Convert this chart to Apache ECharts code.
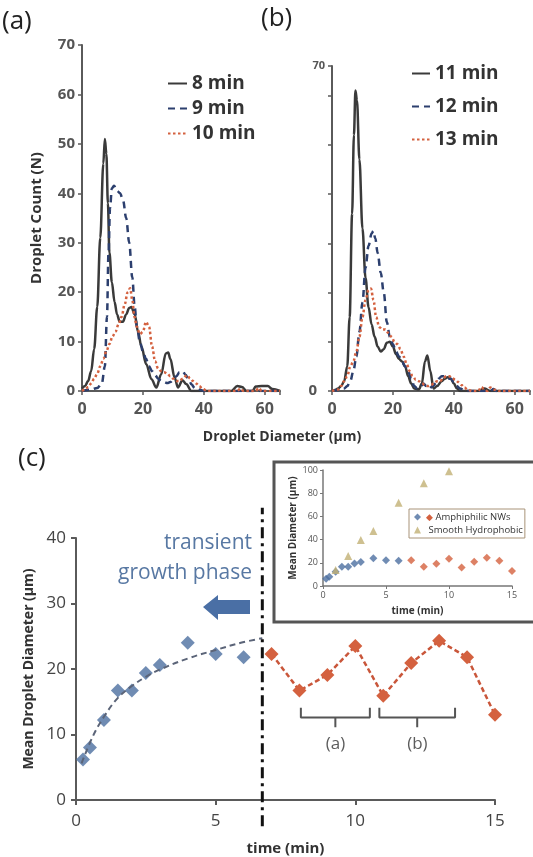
<!DOCTYPE html>
<html>
<head>
<meta charset="utf-8">
<script src="https://cdn.jsdelivr.net/npm/echarts@6/dist/echarts.min.js"></script>
<style>
html, body { margin: 0; padding: 0; background: #fff; }
#chart { width: 533px; height: 857px; }
</style>
</head>
<body>
<div id="chart"></div>
<script>
// (a) droplet count vs diameter, [diameter um, count]
var count8 = [[0,0.5],[1,1],[2,2],[3,4],[4,8.5],[5,17],[6,31],[7,46],[7.5,51],[8,48],[8.5,38],[9,28],[9.8,22],[10.7,18],[11.5,15.5],[12.4,14],[13.4,14],[14.5,15.5],[15.5,16.8],[16.2,17],[17.3,15.5],[18.4,12],[19.5,9],[21.1,5.4],[22.8,2.4],[24.4,0.7],[26,3.4],[27.5,7.6],[28.3,7.8],[29,6.5],[30.4,2.7],[31.5,0.7],[33,2.2],[34.2,1.4],[35.9,0],[40,0],[49,0],[51,1],[52.5,0.8],[54,0],[56,0],[57,0.9],[59,1],[61,1],[62.5,0.4],[65,0]];
var count9 = [[0,0],[3,0.3],[5,0.6],[6.5,1.5],[7.5,5],[8.2,15],[8.7,28],[9.2,37],[9.8,41],[10.5,41.5],[11.5,40.5],[12.5,40],[13.5,38.5],[14.5,35],[15.5,30],[16.5,23],[17.3,17],[18,13],[19,10],[20,8],[21,6.5],[22,5],[23,4],[24,3.2],[25,2.5],[26,2],[27,1.8],[28,1.6],[29,1.8],[30,2.3],[31,3],[32,3.8],[33,4],[34,3.3],[35,2.3],[36,1.3],[37,0.6],[38,0.5],[39,0.2],[40,0],[65,0]];
var count10 = [[0,0],[1,0.3],[2,0.8],[3,1.5],[4,2.5],[5,3.5],[6,5],[7,6.5],[8,8],[9,9.5],[10,11],[11,12],[12,13.5],[13,15],[14,17.5],[15,20],[15.8,20.8],[16.5,18.5],[17.2,15],[18,13],[19,11.5],[20,12],[21,14],[22,13],[23,9],[24,6],[25,4.5],[26,4],[27,3.8],[28,3.5],[29,3],[30,2.5],[31,2],[32,2],[33,2.5],[34.5,3.2],[35.5,2.5],[36.5,2],[37.5,1.5],[38.5,1],[39.5,0.5],[41,0],[51,0],[52,0.5],[53,0],[57,0],[58,0.6],[59,0],[65,0]];

// (b)
var count11 = [[0,0],[1,0.2],[2,0.5],[3,1],[4,2],[5,5],[5.8,15],[6.6,36],[7.2,52],[7.7,61],[8.2,59],[9,47],[10,33],[11,23],[12,17],[13,13.5],[14,11],[15,9],[16,8],[17,8.5],[18,9.8],[19,10],[20,9],[21,7.5],[22,6.5],[23,6],[24,5],[25,3],[26,1.5],[27,0.5],[28.5,0.3],[29.5,1.5],[30.5,6],[31.3,7.2],[32.3,4],[33.3,0.5],[34.5,1],[36,2],[37,2.5],[38,2.8],[39,2.5],[40,1.5],[41,0.5],[42,0],[48,0],[50,0.5],[52,0],[65,0]];
var count12 = [[0,0],[2,0.2],[4,0.5],[5,1],[6,2],[7,4],[8,7],[9,12],[10,18],[11,25],[12,29.5],[13,32],[13.6,32.5],[14.2,31],[15,28],[16,24],[17,20],[18,14],[19,11],[20,9.5],[21,8],[22,7],[23,6],[24,5],[25,4],[26,2.5],[27,1],[28,0.5],[29,0.8],[30,1.5],[31,1],[32,0.5],[33,1],[34,1.5],[35,2.5],[36,3],[37,3],[38,2.5],[39,2.5],[40,1.8],[41,1],[42,0.5],[44,0],[52,0],[53,0.4],[54,0],[65,0]];
var count13 = [[0,0],[2,0.3],[3,1],[4,2],[5,3],[6,5],[7,6],[8,8],[9,11],[10,15],[11,18.5],[12,20.5],[12.8,20.8],[13.6,18.5],[14.5,15],[15.5,13],[16.5,12.5],[17.5,12.5],[18.5,11.8],[19.5,11],[20.5,10],[21.5,9.5],[22.5,8.5],[23.5,7],[24.5,5.5],[25.5,4],[26.5,3],[27.5,2.3],[28.5,2],[29.5,1.6],[30.5,1.2],[31.5,1],[32.5,1.2],[33.5,1.6],[34.5,2],[35.5,2],[36.5,2.6],[37.5,3],[38.5,3],[39.5,2.6],[40.5,2.3],[41.5,1.8],[42.5,1.2],[43.5,0.7],[44.5,0.3],[46,0],[48,0],[49,0.8],[50,0.4],[51,0],[52,0.7],[53,0.3],[55,0],[65,0]];

// (c) mean droplet diameter vs time
var growthTime = [0.25, 0.5, 1, 1.5, 2, 2.5, 3, 4, 5, 6];
var growthDiam = [6.2, 8.0, 12.2, 16.7, 16.7, 19.4, 20.6, 24.0, 22.3, 21.8];
var laterTime = [7, 8, 9, 10, 11, 12, 13, 14, 15];
var laterDiam = [22.3, 16.7, 19.1, 23.5, 15.9, 20.9, 24.3, 21.8, 13.0];
var fitTime = [0.2, 0.6, 1, 1.5, 2, 2.5, 3, 4, 5, 5.9, 6.67];
var fitDiam = [5.6, 9.7, 12.7, 15.6, 17.4, 18.8, 19.9, 21.6, 22.9, 24.0, 24.7];
var growthEnd = 6.67;

// inset: smooth hydrophobic surface
var hydroTime = [1, 2, 3, 4, 6, 8, 10];
var hydroDiam = [13.8, 25.9, 39.7, 47.4, 71.8, 88.5, 99];

var xTicksHist = [0, 20, 40, 60];
var yTicksMain = [0, 10, 20, 30, 40];

function pairs(xs, ys){
    return xs.map(function(x, i){ return [x, ys[i]]; });
}

var FONT = '"Open Sans", "DejaVu Sans", sans-serif';
var AXIS = '#5a5a5a';
var BLUE = '#4c6fa0';
var RED = '#d4613f';
var KHAKI = '#c2b074';
var DARK = '#3a3a3a';
var NAVY = '#2c3f6e';

function histX(gi){
    return {
        gridIndex: gi, type: 'value', min: 0, max: 65, interval: 20,
        axisLine: { lineStyle: { color: AXIS, width: 2 } },
        axisTick: { length: 4, lineStyle: { color: AXIS, width: 1.5 } },
        splitLine: { show: false },
        axisLabel: {
            fontFamily: FONT, fontSize: 16, fontWeight: 'bold', color: '#555', margin: 10,
            formatter: function(v){ return xTicksHist.indexOf(v) >= 0 ? String(v) : ''; }
        }
    };
}

// brackets under the red points, in data units
function bracket(x0, x1){
    var xc = (x0 + x1) / 2, top = 14.1, mid = 12.6, low = 11.1;
    return [[x0, top], [x0, mid], [xc, mid], [xc, low], [xc, mid], [x1, mid], [x1, top]];
}

var chart = echarts.init(document.getElementById('chart'));

var histLine = function(name, data, gi, color, type){
    return {
        name: name, type: 'line', xAxisIndex: gi, yAxisIndex: gi,
        data: data, symbol: 'none', smooth: 0.35, smoothMonotone: 'x',
        lineStyle: { color: color, width: 2.5, type: type },
        itemStyle: { color: color }
    };
};

var histLegendText = { fontFamily: FONT, fontSize: 19, fontWeight: 'bold', color: '#333' };

var option = {
    animation: false,
    backgroundColor: '#fff',
    textStyle: { fontFamily: FONT },
    grid: [
        { left: 82, top: 45, width: 198, height: 346 },
        { left: 332, top: 66, width: 198, height: 325 },
        { left: 76, top: 538, width: 419, height: 262 },
        { left: 323, top: 470, width: 189, height: 116 }
    ],
    xAxis: [
        histX(0),
        histX(1),
        {
            gridIndex: 2, type: 'value', min: 0, max: 15, interval: 5,
            name: 'time (min)', nameLocation: 'middle', nameGap: 41,
            nameTextStyle: { fontFamily: FONT, fontSize: 15, fontWeight: 'bold', color: '#333' },
            axisLine: { lineStyle: { color: AXIS, width: 2 } },
            axisTick: { length: 5, lineStyle: { color: AXIS, width: 2 } },
            splitLine: { show: false },
            axisLabel: { fontFamily: FONT, fontSize: 17, color: '#444', margin: 13 }
        },
        {
            gridIndex: 3, type: 'value', min: 0, max: 15, interval: 5,
            name: 'time (min)', nameLocation: 'middle', nameGap: 20,
            nameTextStyle: { fontFamily: FONT, fontSize: 10, fontWeight: 'bold', color: '#333' },
            axisLine: { lineStyle: { color: '#777', width: 1.5 } },
            axisTick: { length: 3, lineStyle: { color: '#777' } },
            splitLine: { show: false },
            axisLabel: { fontFamily: FONT, fontSize: 9, color: '#555', margin: 5 }
        }
    ],
    yAxis: [
        {
            gridIndex: 0, type: 'value', min: 0, max: 70, interval: 10,
            name: 'Droplet Count (N)', nameLocation: 'middle', nameGap: 38,
            nameTextStyle: { fontFamily: FONT, fontSize: 15, fontWeight: 'bold', color: '#333' },
            axisLine: { show: true, lineStyle: { color: AXIS, width: 2 } },
            axisTick: { show: true, length: 4, lineStyle: { color: AXIS, width: 1.5 } },
            splitLine: { show: false },
            axisLabel: { fontFamily: FONT, fontSize: 15, fontWeight: 'bold', color: '#555', margin: 7 }
        },
        {
            gridIndex: 1, type: 'value', min: 0, max: 66, interval: 10,
            axisLine: { show: true, lineStyle: { color: AXIS, width: 2 } },
            axisTick: { show: true, length: 4, lineStyle: { color: AXIS, width: 1.5 } },
            splitLine: { show: false },
            axisLabel: {
                margin: 7,
                formatter: function(v){
                    if (v === 0) return '{big|0}';
                    if (v === 66) return '{small|70}';
                    return '';
                },
                rich: {
                    big: { fontFamily: FONT, fontSize: 15, fontWeight: 'bold', color: '#555', padding: [0, 8, 0, 0] },
                    small: { fontFamily: FONT, fontSize: 11, fontWeight: 'bold', color: '#555' }
                }
            }
        },
        {
            gridIndex: 2, type: 'value', min: 0, max: 40, interval: 10,
            name: 'Mean Droplet Diameter (\u00b5m)', nameLocation: 'middle', nameGap: 36,
            nameTextStyle: { fontFamily: FONT, fontSize: 14, fontWeight: 'bold', color: '#333' },
            axisLine: { show: true, lineStyle: { color: AXIS, width: 2 } },
            axisTick: { show: true, length: 5, lineStyle: { color: AXIS, width: 2 } },
            splitLine: { show: false },
            axisLabel: {
                fontFamily: FONT, fontSize: 17, color: '#444', margin: 10,
                formatter: function(v){ return yTicksMain.indexOf(v) >= 0 ? String(v) : ''; }
            }
        },
        {
            gridIndex: 3, type: 'value', min: 0, max: 100, interval: 20,
            name: 'Mean Diameter (\u00b5m)', nameLocation: 'middle', nameGap: 25,
            nameTextStyle: { fontFamily: FONT, fontSize: 10, fontWeight: 'bold', color: '#333' },
            axisLine: { show: true, lineStyle: { color: '#777', width: 1.5 } },
            axisTick: { show: true, length: 3, lineStyle: { color: '#777' } },
            splitLine: { show: false },
            axisLabel: { fontFamily: FONT, fontSize: 9, color: '#555', margin: 5 }
        }
    ],
    legend: [
        {
            data: ['8 min', '9 min', '10 min'], orient: 'vertical', left: 162, top: 69,
            itemWidth: 19, itemHeight: 12, itemGap: 6,
            itemStyle: { opacity: 0 },
            textStyle: histLegendText
        },
        {
            data: ['11 min', '12 min', '13 min'], orient: 'vertical', left: 406, top: 59,
            itemWidth: 18, itemHeight: 12, itemGap: 14,
            itemStyle: { opacity: 0 },
            textStyle: histLegendText
        },
        {
            data: ['Amphiphilic NWs', 'Smooth Hydrophobic'], orient: 'vertical', left: 409, top: 509,
            itemWidth: 7, itemHeight: 7, itemGap: 3, padding: [3, 2, 3, 5],
            backgroundColor: '#fff', borderColor: '#a89378', borderWidth: 1,
            formatter: function(name){
                return name === 'Amphiphilic NWs' ? '{r|\u25c6} ' + name : ' ' + name;
            },
            textStyle: {
                fontFamily: FONT, fontSize: 9.5, color: '#333',
                rich: { r: { color: RED, fontSize: 9 } }
            }
        }
    ],
    graphic: [
        { type: 'text', left: 2, top: 9, style: { text: '(a)', font: '26px ' + FONT, fill: '#222' } },
        { type: 'text', left: 261, top: 6, style: { text: '(b)', font: '26px ' + FONT, fill: '#222' } },
        { type: 'text', left: 18, top: 446, style: { text: '(c)', font: '26px ' + FONT, fill: '#222' } },
        { type: 'text', x: 282, y: 437, style: { text: 'Droplet Diameter (\u00b5m)', font: 'bold 14px ' + FONT, fill: '#333', textAlign: 'center', textVerticalAlign: 'middle' } },
        { type: 'text', x: 252, y: 543, style: { text: 'transient', font: '21px ' + FONT, fill: '#5878a3', textAlign: 'right', textVerticalAlign: 'middle' } },
        { type: 'text', x: 252, y: 573, style: { text: 'growth phase', font: '21px ' + FONT, fill: '#5878a3', textAlign: 'right', textVerticalAlign: 'middle' } },
        {
            type: 'polygon',
            shape: { points: [[203, 607], [218, 595], [218, 600], [250, 600], [250, 614], [218, 614], [218, 620]] },
            style: { fill: '#4a6fa5' }
        },
        {
            type: 'rect',
            shape: { x: 274, y: 462, width: 262, height: 160 },
            style: { fill: 'none', stroke: '#555', lineWidth: 3 }
        }
    ],
    series: [
        histLine('8 min', count8, 0, DARK, 'solid'),
        histLine('9 min', count9, 0, NAVY, [7, 5]),
        histLine('10 min', count10, 0, RED, [2.5, 2.5]),
        histLine('11 min', count11, 1, DARK, 'solid'),
        histLine('12 min', count12, 1, NAVY, [7, 5]),
        histLine('13 min', count13, 1, RED, [2.5, 2.5]),
        {
            name: 'fit', type: 'line', xAxisIndex: 2, yAxisIndex: 2,
            data: pairs(fitTime, fitDiam), symbol: 'none', smooth: 0.4,
            lineStyle: { color: '#5b6478', width: 2, type: [6, 4] }
        },
        {
            name: 'growth', type: 'scatter', xAxisIndex: 2, yAxisIndex: 2,
            data: pairs(growthTime, growthDiam), symbol: 'diamond', symbolSize: 14,
            itemStyle: { color: BLUE }
        },
        {
            name: 'later', type: 'line', xAxisIndex: 2, yAxisIndex: 2,
            data: pairs(laterTime, laterDiam), symbol: 'diamond', symbolSize: 14, showSymbol: true,
            lineStyle: { color: '#c9563a', width: 2.5, type: [5, 3] },
            itemStyle: { color: RED }
        },
        {
            name: 'boundary', type: 'line', xAxisIndex: 2, yAxisIndex: 2, clip: false,
            data: [[growthEnd, -4], [growthEnd, 44.6]], symbol: 'none',
            lineStyle: { color: '#111', width: 3, type: [11, 5, 3, 5] }
        },
        {
            name: 'bracket a', type: 'line', xAxisIndex: 2, yAxisIndex: 2,
            data: bracket(8.05, 10.52), symbol: 'none',
            lineStyle: { color: '#555', width: 2 }
        },
        {
            name: 'bracket b', type: 'line', xAxisIndex: 2, yAxisIndex: 2,
            data: bracket(10.86, 13.57), symbol: 'none',
            lineStyle: { color: '#555', width: 2 }
        },
        {
            name: 'bracket labels', type: 'scatter', xAxisIndex: 2, yAxisIndex: 2,
            data: [{ value: [9.29, 8.6], name: '(a)' }, { value: [12.22, 8.6], name: '(b)' }],
            symbolSize: 0,
            label: { show: true, position: 'inside', formatter: '{b}', fontFamily: FONT, fontSize: 17, color: '#333' }
        },
        {
            name: 'Amphiphilic NWs', type: 'scatter', xAxisIndex: 3, yAxisIndex: 3,
            data: pairs(growthTime, growthDiam), symbol: 'diamond', symbolSize: 8,
            itemStyle: { color: BLUE }
        },
        {
            name: 'Amphiphilic NWs', type: 'scatter', xAxisIndex: 3, yAxisIndex: 3,
            data: pairs(laterTime, laterDiam), symbol: 'diamond', symbolSize: 8,
            itemStyle: { color: RED }
        },
        {
            name: 'Smooth Hydrophobic', type: 'scatter', xAxisIndex: 3, yAxisIndex: 3,
            data: pairs(hydroTime, hydroDiam), symbol: 'triangle', symbolSize: 8,
            itemStyle: { color: KHAKI }
        }
    ]
};
chart.setOption(option);
</script>
</body>
</html>
